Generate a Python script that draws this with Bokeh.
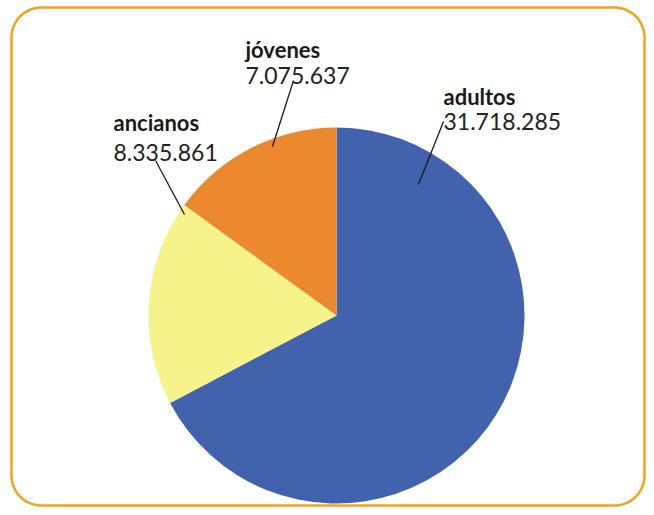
import numpy as np
from bokeh.plotting import figure
from bokeh.models import Range1d, ColumnDataSource
from bokeh.core.properties import value
from bokeh.embed import file_html
from bokeh.resources import INLINE

# ---- data ----
categories = ["adultos", "ancianos", "jóvenes"]
values = [31718285, 8335861, 7075637]
value_labels = ["31.718.285", "8.335.861", "7.075.637"]
colors = ["#4163AE", "#F6F38A", "#EC892E"]

W, H = 646, 507
def X(px):  # picture x -> data x
    return px
def Y(py):  # picture y -> data y
    return H - py

p = figure(width=W, height=H, output_backend="svg", toolbar_location=None,
           x_range=Range1d(0, W), y_range=Range1d(0, H), min_border=0)
p.axis.visible = False
p.grid.visible = False
p.outline_line_color = None
p.background_fill_color = "white"
p.border_fill_color = "white"

# rounded frame
x0, x1, y0, y1, r = X(11), X(644), Y(505), Y(7), 30
pts = []
for cx, cy, a0 in [(x1 - r, y1 - r, 0), (x0 + r, y1 - r, 90), (x0 + r, y0 + r, 180), (x1 - r, y0 + r, 270)]:
    a = np.radians(np.linspace(a0, a0 + 90, 20))
    pts += list(zip(cx + r * np.cos(a), cy + r * np.sin(a)))
fx, fy = zip(*pts)
p.patch(list(fx) + [fx[0]], list(fy) + [fy[0]], fill_color="white",
        line_color="#F2A31B", line_width=2.5)

# pie
vals = np.array(values, dtype=float)
frac = vals / vals.sum()
cum = np.concatenate([[0], np.cumsum(frac)])
start = np.pi / 2 - 2 * np.pi * cum[:-1]
end = np.pi / 2 - 2 * np.pi * cum[1:]
src = ColumnDataSource(dict(start=start, end=end, color=colors, cat=categories))
cx, cy, R = X(336), Y(315), 188
p.wedge(x=cx, y=cy, radius=R, start_angle="start", end_angle="end",
        direction="clock", fill_color="color", line_color=None, source=src)

# labels (left x, baseline of name, baseline of value) in picture coords
label_pos = {"adultos": (443, 96, 121), "ancianos": (113, 122, 152), "jóvenes": (245, 49, 75)}
leaders = {"adultos": ((443, 121), (418, 184)),
           "ancianos": ((155, 160), (184, 214)),
           "jóvenes": ((293, 80), (272, 146))}

for cat, vl in zip(categories, value_labels):
    lx, b1, b2 = label_pos[cat]
    p.text(x=[X(lx)], y=[Y(b1)], text=[cat], text_font=value("Lato"),
           text_font_style="bold", text_font_size="22px", text_color="#1a1a1a",
           text_baseline="alphabetic", text_align="left")
    p.text(x=[X(lx)], y=[Y(b2)], text=[vl], text_font=value("Lato"),
           text_font_size="23px", text_color="#222222",
           text_baseline="alphabetic", text_align="left")
    (ax, ay), (bx, by) = leaders[cat]
    p.line([X(ax), X(bx)], [Y(ay), Y(by)], line_color="#1a1a1a", line_width=1.3)

open("out.html", "w").write(file_html(p, INLINE))
